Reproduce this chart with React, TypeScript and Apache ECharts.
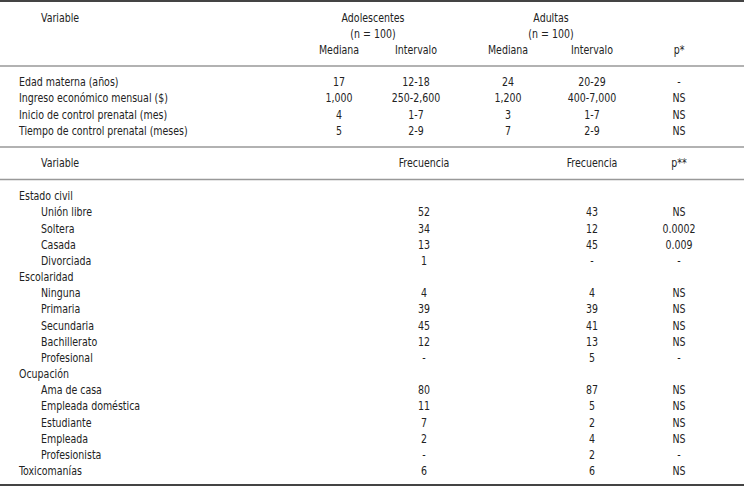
import React, { useEffect, useRef } from "react";
import * as echarts from "echarts";

// ---- Data ----
const summaryVariables = [
  "Edad materna (años)",
  "Ingreso económico mensual ($)",
  "Inicio de control prenatal (mes)",
  "Tiempo de control prenatal (meses)",
];
const adolMedian = ["17", "1,000", "4", "5"];
const adolRange = ["12-18", "250-2,600", "1-7", "2-9"];
const adultMedian = ["24", "1,200", "3", "7"];
const adultRange = ["20-29", "400-7,000", "1-7", "2-9"];
const summaryP = ["-", "NS", "NS", "NS"];

const freqLabels = [
  "Estado civil", "Unión libre", "Soltera", "Casada", "Divorciada",
  "Escolaridad", "Ninguna", "Primaria", "Secundaria", "Bachillerato", "Profesional",
  "Ocupación", "Ama de casa", "Empleada doméstica", "Estudiante", "Empleada", "Profesionista",
  "Toxicomanías",
];
const freqIndent = [0, 1, 1, 1, 1, 0, 1, 1, 1, 1, 1, 0, 1, 1, 1, 1, 1, 0];
const freqAdol = ["", "52", "34", "13", "1", "", "4", "39", "45", "12", "-", "", "80", "11", "7", "2", "-", "6"];
const freqAdult = ["", "43", "12", "45", "-", "", "4", "39", "41", "13", "5", "", "87", "5", "2", "4", "2", "6"];
const freqP = ["", "NS", "0.0002", "0.009", "-", "", "NS", "NS", "NS", "NS", "-", "", "NS", "NS", "NS", "NS", "-", "NS"];

const headerGroups = ["Adolescentes", "Adultas"];
const headerN = ["(n = 100)", "(n = 100)"];
const subHeaders = ["Mediana", "Intervalo", "Mediana", "Intervalo", "p*"];
const freqHeaders = ["Frecuencia", "Frecuencia", "p**"];

export default function App() {
  const ref = useRef<HTMLDivElement>(null);
  useEffect(() => {
    document.body.style.margin = "0";
    const chart = echarts.init(ref.current!, undefined, { renderer: "svg" });
    const font = '12px "DejaVu Sans Condensed", "DejaVu Sans", sans-serif';
    const color = "#222";
    const sx = 0.875;
    const els: any[] = [];
    const txt = (s: string, x: number, y: number, align: string) => {
      if (!s) return;
      els.push({
        type: "text",
        x,
        y,
        scaleX: sx,
        style: { text: s, x: 0, y: 0, fill: color, font, textAlign: align, textVerticalAlign: "middle", verticalAlign: "middle" },
      });
    };
    const hline = (y: number, w: number, c: string) => {
      els.push({ type: "line", shape: { x1: 0, y1: y, x2: 744, y2: y }, style: { stroke: c, lineWidth: w } });
    };
    hline(1, 2, "#444");
    hline(66, 1.5, "#999");
    hline(147, 1.5, "#999");
    hline(179.5, 1.5, "#999");
    hline(485, 2, "#444");

    const colX = [339, 416, 508, 592, 679];
    const groupX = [373, 551];
    txt("Variable", 41, 18.5, "left");
    headerGroups.forEach((g, i) => {
      txt(g, groupX[i], 18.5, "center");
      txt(headerN[i], groupX[i], 34.5, "center");
    });
    subHeaders.forEach((s, i) => txt(s, colX[i], 50.5, "center"));

    const rowStep = 16.2;
    summaryVariables.forEach((v, i) => {
      const y = 82.5 + i * rowStep;
      txt(v, 19, y, "left");
      txt(adolMedian[i], colX[0], y, "center");
      txt(adolRange[i], colX[1], y, "center");
      txt(adultMedian[i], colX[2], y, "center");
      txt(adultRange[i], colX[3], y, "center");
      txt(summaryP[i], colX[4], y, "center");
    });

    const freqX = [424, 592, 679];
    txt("Variable", 41, 163.5, "left");
    freqHeaders.forEach((s, i) => txt(s, freqX[i], 163.5, "center"));
    freqLabels.forEach((v, i) => {
      const y = 196.5 + i * 16.17;
      txt(v, freqIndent[i] ? 41 : 19, y, "left");
      txt(freqAdol[i], freqX[0], y, "center");
      txt(freqAdult[i], freqX[1], y, "center");
      txt(freqP[i], freqX[2], y, "center");
    });

    chart.setOption({ animation: false, backgroundColor: "#fff", graphic: { elements: els } });
    return () => chart.dispose();
  }, []);
  return <div ref={ref} style={{ width: 744, height: 489 }} />;
}
